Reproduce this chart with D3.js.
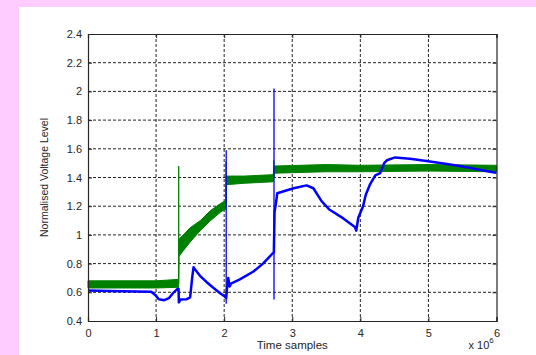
<!DOCTYPE html>
<html>
<head>
<meta charset="utf-8">
<script src="https://cdn.jsdelivr.net/npm/d3@7"></script>
<style>
  body { margin: 0; background: #ffccff; }
  text { font-family: Arial, "Liberation Sans", sans-serif; fill: #262626; }
</style>
</head>
<body>
<div id="chart"></div>
<script>
// axis ticks
const xTicks = [0, 1, 2, 3, 4, 5, 6];
const yTicks = [0.4, 0.6, 0.8, 1, 1.2, 1.4, 1.6, 1.8, 2, 2.2, 2.4];

// green series, drawn as a noisy band (x in 1e6 samples, lower / upper edge)
const greenX  = [0, 1.0, 1.33, 1.335, 1.4, 1.5, 1.65, 1.8, 1.95, 2.025, 2.03, 2.3, 2.72, 2.735, 3.5, 4.0, 5.0, 6.0];
const greenLo = [0.63, 0.63, 0.635, 0.85, 0.89, 0.95, 1.03, 1.10, 1.16, 1.18, 1.35, 1.36, 1.37, 1.43, 1.44, 1.44, 1.445, 1.44];
const greenHi = [0.68, 0.68, 0.69, 0.97, 1.0, 1.05, 1.10, 1.17, 1.22, 1.24, 1.41, 1.41, 1.42, 1.48, 1.49, 1.485, 1.49, 1.485];

// green switching spikes
const greenSpikeX  = [1.332, 2.027, 2.73];
const greenSpikeLo = [0.66, 1.2, 1.40];
const greenSpikeHi = [1.48, 1.51, 1.52];

// blue series
const blueX = [0, 0.5, 0.93, 0.99, 1.04, 1.12, 1.19, 1.26, 1.31, 1.33, 1.335, 1.36, 1.45, 1.5, 1.53, 1.55, 1.57,
  1.645, 1.74, 1.84, 1.94, 2.01, 2.03, 2.04, 2.06, 2.08, 2.1, 2.23, 2.43, 2.57, 2.72, 2.73,
  2.74, 2.76, 2.78, 3.02, 3.21, 3.31, 3.43, 3.55, 3.75, 3.92, 3.94, 3.97, 4.04, 4.08, 4.14, 4.22, 4.29,
  4.35, 4.39, 4.51, 4.73, 4.97, 5.22, 5.46, 5.71, 5.95, 6.0];
const blueY = [0.612, 0.608, 0.604, 0.58, 0.552, 0.545, 0.56, 0.6, 0.622, 0.625, 0.53, 0.55, 0.552, 0.565, 0.7, 0.775, 0.76,
  0.715, 0.672, 0.632, 0.594, 0.57, 0.56, 0.62, 0.70, 0.64, 0.66, 0.69, 0.745, 0.80, 0.875, 0.88,
  1.16, 1.22, 1.29, 1.325, 1.345, 1.325, 1.235, 1.175, 1.115, 1.055, 1.03, 1.12, 1.2, 1.28, 1.35, 1.415, 1.43,
  1.5, 1.52, 1.54, 1.53, 1.515, 1.498, 1.48, 1.458, 1.436, 1.433];

// blue switching spikes
const blueSpikeX  = [2.03, 2.732];
const blueSpikeLo = [0.52, 0.55];
const blueSpikeHi = [1.59, 2.02];

const W = 536, H = 355;
const margin = {top: 34, right: 39.5, bottom: 34, left: 88};
const width = W - margin.left - margin.right;
const height = H - margin.top - margin.bottom;

const root = d3.select("#chart").append("svg")
    .attr("width", W)
    .attr("height", H);

// pink frame with white panel
root.append("rect").attr("width", W).attr("height", H).attr("fill", "#ffccff");
root.append("rect").attr("x", 19).attr("y", 7).attr("width", W - 19).attr("height", H - 7).attr("fill", "#ffffff");

const svg = root.append("g")
    .attr("transform", `translate(${margin.left},${margin.top})`);

const x = d3.scaleLinear().domain([0, 6]).range([0, width]);
const y = d3.scaleLinear().domain([0.4, 2.4]).range([height, 0]);

const fmt = d => String(+d.toFixed(1));

// grid
svg.append("g").selectAll("line")
    .data(xTicks.slice(1, -1))
    .enter().append("line")
    .attr("x1", d => x(d)).attr("x2", d => x(d))
    .attr("y1", 0).attr("y2", height)
    .attr("stroke", "#222").attr("stroke-width", 1).attr("stroke-dasharray", "3,2");
svg.append("g").selectAll("line")
    .data(yTicks.slice(1, -1))
    .enter().append("line")
    .attr("x1", 0).attr("x2", width)
    .attr("y1", d => y(d)).attr("y2", d => y(d))
    .attr("stroke", "#222").attr("stroke-width", 1).attr("stroke-dasharray", "3,2");

// green band
const greenData = greenX.map((d, i) => ({x: d, lo: greenLo[i], hi: greenHi[i]}));
svg.append("path")
    .datum(greenData)
    .attr("fill", "#008000")
    .attr("stroke", "#008000")
    .attr("stroke-width", 1)
    .attr("d", d3.area().x(d => x(d.x)).y0(d => y(d.lo)).y1(d => y(d.hi)));

svg.append("g").selectAll("line")
    .data(greenSpikeX.map((d, i) => ({x: d, lo: greenSpikeLo[i], hi: greenSpikeHi[i]})))
    .enter().append("line")
    .attr("x1", d => x(d.x)).attr("x2", d => x(d.x))
    .attr("y1", d => y(d.lo)).attr("y2", d => y(d.hi))
    .attr("stroke", "#008000").attr("stroke-width", 1.3);

// blue line
const blueData = blueX.map((d, i) => ({x: d, y: blueY[i]}));
svg.append("path")
    .datum(blueData)
    .attr("fill", "none")
    .attr("stroke", "#0000ff")
    .attr("stroke-width", 2.5)
    .attr("stroke-linejoin", "round")
    .attr("d", d3.line().x(d => x(d.x)).y(d => y(d.y)));

svg.append("g").selectAll("line")
    .data(blueSpikeX.map((d, i) => ({x: d, lo: blueSpikeLo[i], hi: blueSpikeHi[i]})))
    .enter().append("line")
    .attr("x1", d => x(d.x)).attr("x2", d => x(d.x))
    .attr("y1", d => y(d.lo)).attr("y2", d => y(d.hi))
    .attr("stroke", "#0000ff").attr("stroke-width", 1.3);

// axes (inward ticks, matlab style)
const xAxis = svg.append("g")
    .attr("transform", `translate(0,${height})`)
    .call(d3.axisBottom(x).tickValues(xTicks).tickSize(-4).tickPadding(8).tickFormat(fmt));
const yAxis = svg.append("g")
    .call(d3.axisLeft(y).tickValues(yTicks).tickSize(-4).tickPadding(6).tickFormat(fmt));
svg.append("g")
    .call(d3.axisTop(x).tickValues(xTicks).tickSize(-4).tickFormat(""));
svg.append("g")
    .attr("transform", `translate(${width},0)`)
    .call(d3.axisRight(y).tickValues(yTicks).tickSize(-4).tickFormat(""));

svg.selectAll(".domain").attr("stroke", "#262626").attr("stroke-width", 1.2);
svg.selectAll(".tick line").attr("stroke", "#262626");
svg.selectAll(".tick text").attr("font-size", 11).attr("fill", "#262626")
    .attr("font-family", "Arial, 'Liberation Sans', sans-serif");

// labels
svg.append("text")
    .attr("x", width / 2).attr("y", height + 28)
    .attr("text-anchor", "middle")
    .attr("font-size", 11.5)
    .text("Time samples");

svg.append("text")
    .attr("transform", `translate(${-40},${height / 2}) rotate(-90)`)
    .attr("text-anchor", "middle")
    .attr("font-size", 10.5)
    .text("Normalised Voltage Level");

const mult = svg.append("text")
    .attr("x", width - 28).attr("y", height + 28)
    .attr("font-size", 11);
mult.append("tspan").text("x 10");
mult.append("tspan").attr("dy", -6).attr("font-size", 8).text("6");
</script>
</body>
</html>
